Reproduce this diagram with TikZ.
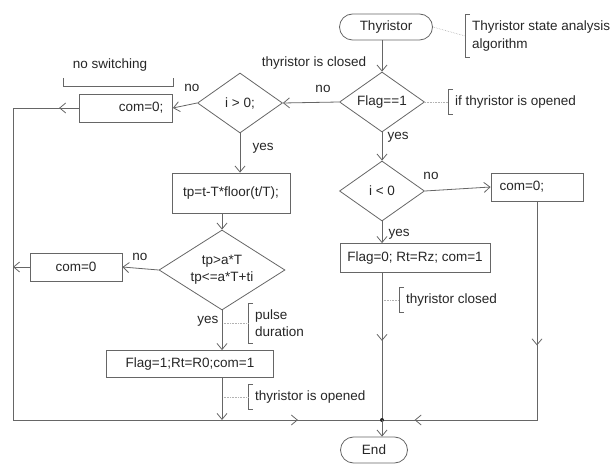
\documentclass[tikz,border=0pt]{standalone}
\usepackage{fontspec}
\setmainfont{Liberation Sans}
\usetikzlibrary{arrows.meta,shapes.geometric,decorations.markings}

\begin{document}
\begin{tikzpicture}[x=1pt,y=-1pt,font=\fontsize{13.5}{17.5}\selectfont,
    >={Straight Barb[length=6pt,width=10pt]}]
    \tikzset{
        line/.style={draw=black!60,line width=0.8pt,text=black!85},
        conn/.style={color=black!60,line width=0.8pt},
        flow/.style={conn,->},
        term/.style={line,rounded corners=13pt,minimum width=93pt,
            minimum height=26pt,inner sep=0pt},
        decision/.style={line,diamond,inner sep=0pt,minimum width=85pt,
            minimum height=60pt,aspect=1.4},
        box/.style={line,rectangle,minimum height=28pt},
        lbl/.style={text=black!85},
        note/.style={lbl,anchor=west,align=left,inner ysep=6pt,inner xsep=7pt},
        bracket/.style={draw=black!60,line width=0.6pt},
        guide/.style={draw=black!30,densely dotted,line width=0.6pt},
        mid/.style={postaction={decorate,decoration={markings,
            mark=at position #1 with {\arrow{>}}}}}
    }
    \useasboundingbox (0,0) rectangle (611,465);

    % blocks
    \node[term] (thy) at (386,27) {Thyristor};
    \node[decision] (flag) at (382,102) {Flag==1};
    \node[decision] (igt) at (240,103) {i > 0;};
    \node[box,minimum width=93pt,text width=75pt,align=right] (com1) at (126,108) {com=0;};
    \node[box,minimum width=118pt,minimum height=40pt] (tp) at (231,193) {tp=t-T*floor(t/T);};
    \node[decision,minimum width=126pt,minimum height=80pt,aspect=1.575,align=center]
        (tpd) at (222,270) {tp>a*T\\tp<=a*T+ti};
    \node[box,minimum width=92pt] (com2) at (76,267) {com=0};
    \node[box,minimum width=167pt,minimum height=27pt] (f1) at (190,364) {Flag=1;Rt=R0;com=1};
    \node[decision] (ilt) at (382,191) {i < 0};
    \node[box,minimum width=92pt,text width=75pt,align=left] (com3) at (537,187) {com=0;};
    \node[box,minimum width=150pt,minimum height=29pt] (rz) at (415,258) {Flag=0; Rt=Rz; com=1};
    \node[term,minimum width=67pt] (end) at (374,450) {End};

    \coordinate (lft) at (13,108);
    \coordinate (bl) at (13,420);
    \coordinate (jn) at (382,420);

    % labels
    \node[lbl] (lclosed) at (314,63) {thyristor is closed};
    \node[lbl] (lno1) at (323,89) {no};
    \node[lbl] (lno2) at (192,88) {no};
    \node[lbl] (lno3) at (140,257) {no};
    \node[lbl] (lno4) at (431,176) {no};
    \node[lbl,anchor=west] (lyes1) at (249,148) {yes};
    \node[lbl,anchor=west] (lyes2) at (384,137) {yes};
    \node[lbl,anchor=west] (lyes3) at (385,234) {yes};
    \node[lbl,anchor=east] (lyes4) at (222,321) {yes};

    % notes
    \node[note] (nalg) at (465,36) {Thyristor state analysis\\algorithm};
    \node[note] (nopen) at (448,102) {if thyristor is opened};
    \node[note] (npulse) at (248,323) {pulse\\duration};
    \node[note] (nopened) at (248,397) {thyristor is opened};
    \node[note] (nclosed) at (399,300) {thyristor closed};
    \node[lbl] (nsw) at (110,65) {no switching};

    \foreach \n in {nalg,nopen,npulse,nopened,nclosed}{
        \draw[bracket] ([xshift=5pt]\n.north west) -- (\n.north west)
            -- (\n.south west) -- ++(5,0);
    }
    \draw[bracket] ([shift={(-47,3)}]nsw.south) -- ++(0,8) -- ++(110,0) -- ++(0,-8);

    \draw[guide] (thy.east) -- (nalg.west);
    \draw[guide] (flag.east) -- (nopen.west);
    \draw[guide] (tpd.south |- npulse.west) -- (npulse.west);
    \draw[guide] (tpd.south |- nopened.west) -- (nopened.west);
    \draw[guide] (flag.south |- nclosed.west) -- (nclosed.west);

    % connectors
    \draw[flow] (flag.north |- thy.south) -- (flag.north);
    \draw[flow] (flag.west) -- (igt.east);
    \draw[flow] (igt.west) -- (com1.east);
    \draw[conn,mid=20pt,mid=663pt] (com1.west) -- (lft) -- (bl) -- (jn);
    \draw[flow] (igt.south) -- (igt.south |- tp.north);
    \draw[flow] (tpd.north |- tp.south) -- (tpd.north);
    \draw[flow] (tpd.west) -- (com2.east);
    \draw[flow] (com2.west) -- (com2.west -| lft);
    \draw[flow] (tpd.south) -- (tpd.south |- f1.north);
    \draw[flow] (tpd.south |- f1.south) -- (tpd.south |- bl);
    \draw[flow] (flag.south) -- (ilt.north);
    \draw[flow] (ilt.east) -- (com3.west);
    \draw[flow] (ilt.south) -- (ilt.south |- rz.north);
    \draw[conn,mid=68pt] (ilt.south |- rz.south) -- (jn);
    \draw[conn,mid=144pt,mid=341pt] (com3.south) -- (com3.south |- jn) -- (jn);
    \fill[black!85] (jn) circle (2pt);
    \draw[flow] (jn) -- (jn |- end.north);
\end{tikzpicture}
\end{document}
